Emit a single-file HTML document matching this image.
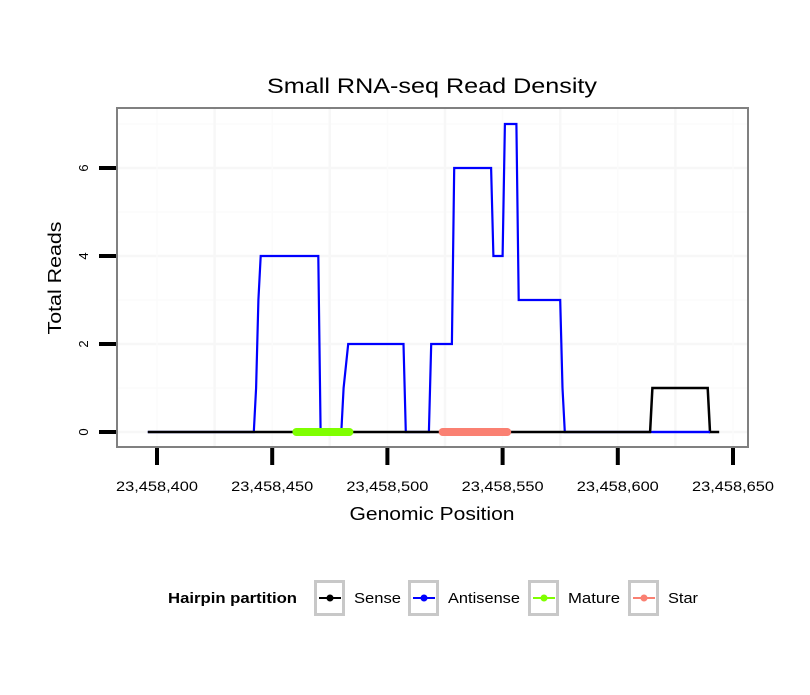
<!DOCTYPE html>
<html><head><meta charset="utf-8"><style>
body{margin:0;background:#fff;}
svg text{font-family:"Liberation Sans",sans-serif;}
</style></head><body>
<svg id="chart" width="810" height="690" xmlns="http://www.w3.org/2000/svg">
<rect width="810" height="690" fill="#fff"/>
<text x="432" y="93" font-size="21" text-anchor="middle" textLength="330" lengthAdjust="spacingAndGlyphs">Small RNA-seq Read Density</text>
<g id="grid"></g>
<g id="series"></g>
<rect x="117" y="108" width="631" height="339" fill="none" stroke="#808080" stroke-width="2"/>
<g id="axes"></g>
<text x="432" y="520" font-size="18" text-anchor="middle" textLength="165" lengthAdjust="spacingAndGlyphs">Genomic Position</text>
<text transform="translate(61,278) rotate(-90)" font-size="18" text-anchor="middle" textLength="113" lengthAdjust="spacingAndGlyphs">Total Reads</text>
<g>
<text x="168" y="603" font-size="15" font-weight="bold" textLength="129" lengthAdjust="spacingAndGlyphs">Hairpin partition</text>
<g id="legend"></g>
</g>
</svg>
<script>
const BASE = 23458400;
const xTicks = [23458400, 23458450, 23458500, 23458550, 23458600, 23458650];
const yTicks = [0, 2, 4, 6];
const sensePos = [-4, 214, 215, 239, 240, 244];
const senseVal = [0, 0, 1, 1, 0, 0];
const antiPos = [-4, 42, 43, 44, 45, 70, 71, 80, 81, 83, 107, 108, 118, 119, 128, 129, 145, 146, 150, 151, 156, 157, 175, 176, 177, 240];
const antiVal = [0, 0, 1, 3, 4, 4, 0, 0, 1, 2, 2, 0, 0, 2, 2, 6, 6, 4, 4, 7, 7, 3, 3, 1, 0, 0];
const maturePos = [60.5, 83.5];
const starPos = [124, 152];
const legendLabels = ["Sense", "Antisense", "Mature", "Star"];
const legendColors = ["#000", "#0000ff", "#7fff00", "#fa8072"];
const legendWidths = [47, 72, 52, 30];

const NS = "http://www.w3.org/2000/svg";
function X(p){ return 157 + (p - (BASE)) * 2.304; }
function Xo(d){ return X(BASE + d); }
function Y(v){ return 432 - v * 44; }
function mk(tag, attrs, parent){ const e = document.createElementNS(NS, tag); for (const k in attrs) e.setAttribute(k, attrs[k]); parent.appendChild(e); return e; }

const grid = document.getElementById('grid');
for (let v = 0; v <= 7; v++) {
  const gl = mk('line', {x1:118, x2:747, y1:Y(v), y2:Y(v), stroke: v%2? '#fbfbfb':'#f7f7f7', 'stroke-width': v%2?1.5:2.5}, grid);
  
  
}
for (let p = BASE - 25; p <= BASE + 250; p += 25) {
  const x = X(p); if (x < 118 || x > 747) continue;
  const gl = mk('line', {x1:x, x2:x, y1:109, y2:446, stroke: ((p-BASE)%50)? '#f7f7f7':'#fbfbfb', 'stroke-width': ((p-BASE)%50)?2.5:1.5}, grid);
  
  
}

const series = document.getElementById('series');
function pts(pos, val){ return pos.map((d,i)=>Xo(d).toFixed(1)+','+Y(val[i]).toFixed(1)).join(' '); }
const anti = mk('polyline', {points: pts(antiPos, antiVal), fill:'none', stroke:'#0000ff', 'stroke-width':2.2}, series);


const sense = mk('polyline', {points: pts(sensePos, senseVal), fill:'none', stroke:'#000', 'stroke-width':2.5}, series);


const antiTop = mk('line', {x1:Xo(sensePos[2]), x2:Xo(sensePos[4]), y1:Y(0), y2:Y(0), stroke:'#0000ff', 'stroke-width':2.2}, series);


const mat = mk('line', {x1:Xo(maturePos[0]), x2:Xo(maturePos[1]), y1:Y(0), y2:Y(0), stroke:'#7fff00', 'stroke-width':8, 'stroke-linecap':'round'}, series);


const star = mk('line', {x1:Xo(starPos[0]), x2:Xo(starPos[1]), y1:Y(0), y2:Y(0), stroke:'#fa8072', 'stroke-width':8, 'stroke-linecap':'round'}, series);



const axes = document.getElementById('axes');
xTicks.forEach(t => {
  const x = X(t);
  const tk = mk('line', {x1:x, x2:x, y1:448, y2:465, stroke:'#000', 'stroke-width':4}, axes);
  
  
  const lb = mk('text', {x:x, y:491, 'font-size':14, 'text-anchor':'middle', textLength:82, lengthAdjust:'spacingAndGlyphs'}, axes);
  lb.textContent = t.toLocaleString('en-US');
  
  
});
yTicks.forEach(v => {
  const y = Y(v);
  const tk = mk('line', {x1:99, x2:116, y1:y, y2:y, stroke:'#000', 'stroke-width':4}, axes);
  
  
  const lb = mk('text', {transform:`translate(88,${y}) rotate(-90)`, 'font-size':13, 'text-anchor':'middle'}, axes);
  lb.textContent = v;
  
  
});

const legend = document.getElementById('legend');
const keyX = [314, 408, 528, 628];
legendLabels.forEach((l, i) => {
  const g = mk('g', {}, legend);
  
  
  const kx = keyX[i];
  mk('rect', {x:kx+1.5, y:581.5, width:28, height:33, fill:'#fff', stroke:'#c8c8c8', 'stroke-width':3}, g);
  mk('line', {x1:kx+5, x2:kx+27, y1:598, y2:598, stroke:legendColors[i], 'stroke-width':2}, g);
  mk('circle', {cx:kx+16, cy:598, r:3.5, fill:legendColors[i]}, g);
  const t = mk('text', {x:kx+40, y:603, 'font-size':15, textLength:legendWidths[i], lengthAdjust:'spacingAndGlyphs'}, g);
  t.textContent = l;
});
</script>
</body></html>
